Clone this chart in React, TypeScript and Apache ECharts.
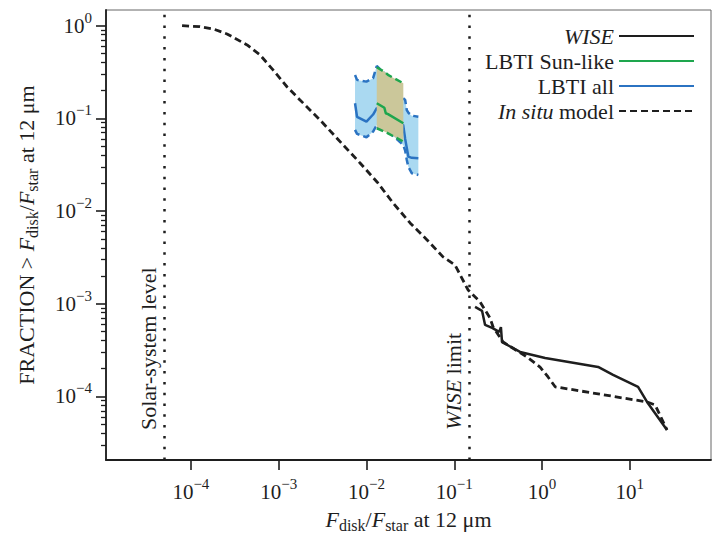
import React, { useEffect, useRef } from "react";
import * as echarts from "echarts";

// ---- data ----
const insituX = [7.94e-5, 1.27e-4, 1.84e-4, 2.58e-4, 4.37e-4, 6.14e-4, 8.63e-4, 1.25e-3, 1.75e-3, 2.96e-3, 5.71e-3, 8.45e-3, 0.0132, 0.0201, 0.0314, 0.049, 0.0745, 0.102, 0.1435, 0.197, 0.255, 0.277, 0.36, 0.675, 0.949, 1.17, 1.41, 15.7, 19.4, 26.5];
const insituY = [1.0, 0.975, 0.914, 0.814, 0.619, 0.483, 0.333, 0.218, 0.158, 0.0961, 0.0491, 0.033, 0.0206, 0.0122, 7.44e-3, 4.88e-3, 3.2e-3, 2.62e-3, 1.41e-3, 1.045e-3, 7.02e-4, 5.61e-4, 3.86e-4, 2.66e-4, 2.07e-4, 1.62e-4, 1.27e-4, 8.71e-5, 8.09e-5, 4.35e-5];

const wiseX = [0.1726, 0.2075, 0.2245, 0.27, 0.325, 0.34, 0.35, 0.562, 1.084, 4.35, 6.44, 12.4, 15.7, 26.5];
const wiseY = [9.23e-4, 8.36e-4, 5.9e-4, 5.48e-4, 4.96e-4, 5.6e-4, 3.86e-4, 3.02e-4, 2.6e-4, 2.08e-4, 1.71e-4, 1.27e-4, 8.71e-5, 4.35e-5];

const lbtiAllX = [0.00741, 0.00781, 0.01, 0.0119, 0.0131, 0.02, 0.0262, 0.0276, 0.0288, 0.03, 0.0328, 0.039];
const lbtiAllMid = [0.1455, 0.104, 0.092, 0.11, 0.129, 0.1, 0.0849, 0.06, 0.048, 0.0387, 0.0375, 0.0371];
const lbtiAllHi = [0.294, 0.26, 0.249, 0.271, 0.367, 0.25, 0.165, 0.158, 0.123, 0.115, 0.107, 0.104];
const lbtiAllLo = [0.075, 0.068, 0.0625, 0.0719, 0.0849, 0.065, 0.0516, 0.045, 0.0356, 0.03, 0.0256, 0.0245];

const lbtiSunX = [0.0131, 0.016, 0.0166, 0.0176, 0.0263];
const lbtiSunMid = [0.1455, 0.13, 0.1135, 0.111, 0.0885];
const lbtiSunHi = [0.356, 0.318, 0.31, 0.294, 0.239];
const lbtiSunLo = [0.0782, 0.072, 0.071, 0.069, 0.0561];

const solarLevel = 5e-5;
const wiseLimit = 0.15;

const xTicks = [1e-4, 1e-3, 1e-2, 1e-1, 1, 10];
const yTicks = [1e-4, 1e-3, 1e-2, 1e-1, 1];
const yMinorDecades = [1e-5, 1e-4, 1e-3, 1e-2, 1e-1];
const yMinorMultipliers = [2, 3, 4, 5, 6, 7, 8, 9];

const legendNames = ["WISE", "LBTI Sun-like", "LBTI all", "In situ model"];

const FONT = "'Liberation Serif', 'Times New Roman', serif";
const INK = "#1e1e1e";
const BLUE = "#2b73c2";
const GREEN = "#1ea64e";
const LIGHTBLUE = "#aad9f1";
const OLIVE = "#cbc79a";

const pairs = (xs: number[], ys: number[]) => xs.map((x, i) => [x, ys[i]]);

const expLabel = (v: number) => {
  const e = Math.round(Math.log10(v));
  const s = e < 0 ? "\u2212" + -e : String(e);
  return "{b|10}{s|" + s + "}";
};

const tickRich = {
  b: { fontSize: 21, fontFamily: FONT, color: INK },
  s: { fontSize: 15, fontFamily: FONT, color: INK, padding: [0, 0, 16, 0] },
};

const makeNameRich = (size: number) => ({
  n: { fontSize: size, fontFamily: FONT, color: INK },
  i: { fontSize: size, fontFamily: FONT, fontStyle: "italic", color: INK },
  d: { fontSize: Math.round(size * 0.72), fontFamily: FONT, color: INK, padding: [Math.round(size * 0.55), 0, 0, 0] },
});

function bandSeries(xs: number[], hi: number[], lo: number[], fill: string, z: number) {
  return {
    type: "custom",
    name: "band" + z,
    coordinateSystem: "cartesian2d",
    silent: true,
    z,
    data: [[xs[0], hi[0]]],
    renderItem: (_p: any, api: any) => {
      const pts: number[][] = [];
      for (let i = 0; i < xs.length; i++) pts.push(api.coord([xs[i], hi[i]]));
      for (let i = xs.length - 1; i >= 0; i--) pts.push(api.coord([xs[i], lo[i]]));
      return { type: "polygon", shape: { points: pts }, style: { fill, stroke: null } };
    },
  };
}

function lineSeries(name: string, xs: number[], ys: number[], color: string, dash: any, z: number, width = 2.5) {
  return {
    type: "line",
    name,
    data: pairs(xs, ys),
    symbol: "none",
    showSymbol: false,
    silent: true,
    z,
    lineStyle: { color, width, type: dash },
    itemStyle: { color },
  };
}

export default function App() {
  const ref = useRef<HTMLDivElement>(null);
  useEffect(() => {
    if (!ref.current) return;
    const chart = echarts.init(ref.current, undefined, { renderer: "svg" });
    const minorTicks: number[] = [];
    yMinorDecades.forEach((d) => yMinorMultipliers.forEach((m) => minorTicks.push(d * m)));
    const yMin = 2.06e-5;
    const yMax = 1.476;
    const dotted = [2.5, 8.3];
    const dashed = [7, 4];
    const italic22 = { fontSize: 22, fontFamily: FONT, fontStyle: "italic", color: INK };
    chart.setOption({
      animation: false,
      grid: { left: 106, right: 3, top: 10, bottom: 77, show: true, borderColor: "#666", borderWidth: 1, outerBoundsMode: "none" },
      legend: {
        data: legendNames,
        orient: "vertical",
        align: "right",
        right: 14,
        top: 20,
        itemWidth: 75,
        itemHeight: 14,
        itemGap: 3,
        selectedMode: false,
        itemStyle: { opacity: 0 },
        textStyle: { fontSize: 22, fontFamily: FONT, color: INK, rich: { i: italic22 } },
        formatter: (n: string) => (n === "WISE" ? "{i|WISE}" : n === "In situ model" ? "{i|In situ} model" : n),
      },
      xAxis: {
        type: "log",
        logBase: 10,
        min: 1.08e-5,
        max: 84,
        splitLine: { show: false },
        axisLine: { lineStyle: { color: INK, width: 1.8 } },
        axisTick: { length: 10, customValues: xTicks, lineStyle: { color: INK, width: 1.6 } },
        minorTick: { show: false },
        axisLabel: { customValues: xTicks, margin: 16, formatter: expLabel, rich: tickRich },
        name: "{i|F}{d|disk}{n|/}{i|F}{d|star}{n| at 12 μm}",
        nameLocation: "middle",
        nameGap: 45,
        nameTextStyle: { rich: makeNameRich(22) },
      },
      yAxis: [
        {
          type: "log",
          logBase: 10,
          min: yMin,
          max: yMax,
          splitLine: { show: false },
          axisLine: { lineStyle: { color: INK, width: 1.8 } },
          axisTick: { length: 10, customValues: yTicks, lineStyle: { color: INK, width: 1.6 } },
          axisLabel: { customValues: yTicks, margin: 14, formatter: expLabel, rich: tickRich },
          name: "{n|FRACTION > }{i|F}{d|disk}{n|/}{i|F}{d|star}{n| at 12 μm}",
          nameLocation: "middle",
          nameGap: 66,
          nameTextStyle: { rich: makeNameRich(22) },
        },
        {
          type: "log",
          logBase: 10,
          min: yMin,
          max: yMax,
          position: "left",
          splitLine: { show: false },
          axisLine: { show: false },
          axisTick: { length: 5, customValues: minorTicks, lineStyle: { color: INK, width: 1.3 } },
          axisLabel: { show: false },
        },
      ],
      series: [
        {
          ...lineSeries("In situ model", insituX, insituY, INK, dashed, 5, 2.8),
          markLine: {
            silent: true,
            symbol: "none",
            precision: 12,
            lineStyle: { color: INK, width: 2.5, type: dotted },
            label: {
              show: true,
              position: "insideStartTop",
              distance: [30, 5],
              fontSize: 22,
              fontFamily: FONT,
              color: INK,
              rich: { i: italic22 },
            },
            data: [
              { xAxis: solarLevel, label: { formatter: "Solar-system level" } },
              { xAxis: wiseLimit, label: { formatter: "{i|WISE} limit" } },
            ],
          },
        },
        lineSeries("WISE", wiseX, wiseY, INK, "solid", 6),
        bandSeries(lbtiAllX, lbtiAllHi, lbtiAllLo, LIGHTBLUE, 1),
        lineSeries("LBTI all", lbtiAllX, lbtiAllMid, BLUE, "solid", 2),
        lineSeries("LBTI all hi", lbtiAllX, lbtiAllHi, BLUE, dashed, 2),
        lineSeries("LBTI all lo", lbtiAllX, lbtiAllLo, BLUE, dashed, 2),
        bandSeries(lbtiSunX, lbtiSunHi, lbtiSunLo, OLIVE, 3),
        lineSeries("LBTI Sun-like", lbtiSunX, lbtiSunMid, GREEN, "solid", 4),
        lineSeries("LBTI Sun-like hi", lbtiSunX, lbtiSunHi, GREEN, dashed, 4),
        lineSeries("LBTI Sun-like lo", lbtiSunX, lbtiSunLo, GREEN, dashed, 4),
      ],
    });
    return () => chart.dispose();
  }, []);
  return <div ref={ref} style={{ width: 714, height: 537, position: "absolute", left: 0, top: 0, background: "#fff" }} />;
}
